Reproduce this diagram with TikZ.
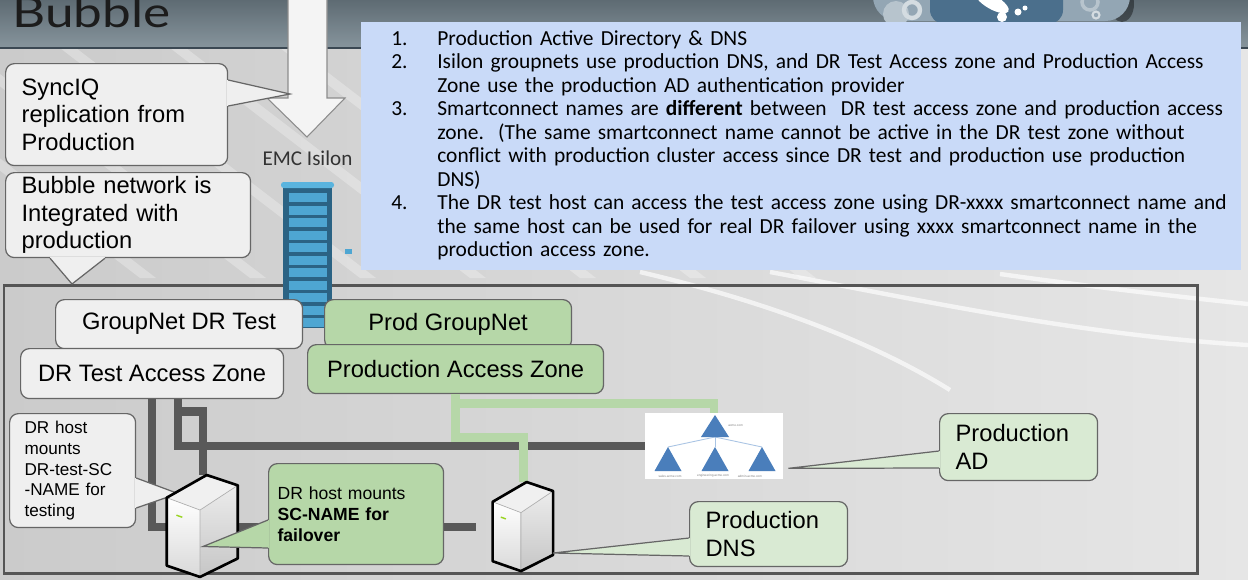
\documentclass[tikz,border=0pt]{standalone}
\usepackage{fontspec}
\usepackage{graphicx}
\setmainfont{Liberation Sans}
\newfontfamily\notesfont{Carlito}
\newfontfamily\titlefont{Lato}
\usetikzlibrary{calc}

\definecolor{headtop}{HTML}{5E6B73}
\definecolor{headbot}{HTML}{87959D}
\definecolor{headline}{HTML}{3B4853}
\definecolor{titleink}{HTML}{1C1C1C}
\definecolor{bgleft}{HTML}{CBCBCB}
\definecolor{bgright}{HTML}{E6E6E6}
\definecolor{boxgray}{HTML}{EFEFEF}
\definecolor{boxline}{HTML}{666666}
\definecolor{framegray}{HTML}{555555}
\definecolor{prodgreen}{HTML}{B6D7A8}
\definecolor{palegreen}{HTML}{D9EAD3}
\definecolor{notesblue}{HTML}{C9DAF8}
\definecolor{drline}{HTML}{595959}
\definecolor{rackdark}{HTML}{2B6384}
\definecolor{rackslot}{HTML}{4EA6D2}
\definecolor{rackcap}{HTML}{5AB4DE}
\definecolor{adblue}{HTML}{4A7EBB}
\definecolor{adlink}{HTML}{A9C4E4}
\definecolor{logodark}{HTML}{4B6F8C}
\definecolor{logolight}{HTML}{93A6B4}
\definecolor{logogear}{HTML}{B7C4CD}
\definecolor{arrowfill}{HTML}{F4F4F4}
\definecolor{arrowline}{HTML}{8C8C8C}

% little host cube, drawn inside the box of a named placeholder node
\newcommand{\serverbox}[1]{%
  \begin{scope}[shift={(#1.north west)},
      x={($(#1.north east)-(#1.north west)$)},
      y={($(#1.south west)-(#1.north west)$)}]
    \fill[top color=white, bottom color=gray!30] (0.01,0.22) -- (0.46,0.34) -- (0.46,0.99) -- (0.01,0.88) -- cycle;
    \fill[top color=gray!15, bottom color=gray!45] (0.46,0.34) -- (0.97,0.10) -- (0.97,0.81) -- (0.46,0.99) -- cycle;
    \fill[gray!12] (0.01,0.22) -- (0.55,0) -- (0.97,0.10) -- (0.46,0.34) -- cycle;
    \draw[gray!60, line width=0.4pt] (0.01,0.22) -- (0.46,0.34) -- (0.97,0.10) (0.46,0.34) -- (0.46,0.99);
    \draw[black, line width=1.5pt, line join=round] (0.01,0.22) -- (0.55,0) -- (0.97,0.10) -- (0.97,0.81) -- (0.46,0.99) -- (0.01,0.88) -- cycle;
    \draw[yellow!60!green, line width=0.8pt] (0.14,0.39) -- (0.22,0.41);
  \end{scope}}

% pointer of a speech box: fill colour, base start, tip, base end
\newcommand{\calltail}[4]{%
  \fill[#1] #2 -- #3 -- #4 -- cycle;
  \draw[#1, line width=1.3pt] #2 -- #4;
  \draw[tailline] #2 -- #3 -- #4;}

\begin{document}
\begin{tikzpicture}[x=0.02cm, y=-0.02cm,
    box/.style={anchor=north west, draw=boxline, line width=0.7pt, rounded corners=5pt, inner sep=0pt},
    gnet/.style={box, fill=boxgray, font=\fontsize{13.5}{15.6}\selectfont},
    gnetprod/.style={gnet, fill=prodgreen},
    note/.style={box, fill=boxgray, align=left, inner xsep=0.32cm, font=\fontsize{13.5}{15.6}\selectfont},
    smallnote/.style={note, inner xsep=0.3cm, font=\fontsize{9.75}{11.7}\selectfont},
    mountnote/.style={note, fill=prodgreen, inner xsep=0.18cm, font=\fontsize{10}{11.9}\selectfont},
    prodnote/.style={note, fill=palegreen, font=\fontsize{13.5}{15.9}\selectfont},
    tailline/.style={draw=boxline, line width=0.7pt},
    drnet/.style={draw=drline, line width=5pt},
    prodnet/.style={draw=prodgreen, line width=5pt},
    srvspot/.style={inner sep=0pt, outer sep=0pt},
    tinylabel/.style={inner sep=0pt, text=gray, font=\fontsize{1.8}{2}\selectfont},
    streak/.style={white, opacity=0.28},
    sweep/.style={draw=white, opacity=0.65, line width=2.5pt},
    frame/.style={draw=framegray, line width=1.7pt},
    syncarrow/.style={fill=arrowfill, draw=arrowline, line width=0.6pt}
]
\useasboundingbox (0,0) rectangle (1248,579);
\clip (0,0) rectangle (1248,579);

% backdrop
\fill[left color=bgleft, right color=bgright] (0,48) rectangle (1248,579);
\foreach \s in {-160,-50,60,170,280,390,500}
  \fill[streak] (\s,48) -- ++(16,0) -- ++(300,230) -- ++(-16,0) -- cycle;
\draw[sweep] (640,272) .. controls (760,300) and (870,340) .. (950,390);
\draw[sweep] (770,272) .. controls (920,300) and (1080,335) .. (1248,345);
\draw[sweep] (1000,274) .. controls (1100,288) and (1190,298) .. (1248,304);

% header band
\fill[top color=headtop, bottom color=headbot] (0,0) rectangle (1248,48);
\draw[headline, line width=1.2pt] (0,48) -- (1248,48);
\node[anchor=base west, inner sep=0pt, text=titleink] (title) at (12,27)
  {\resizebox{3.16cm}{0.62cm}{\titlefont Bubble}};

% logo
\fill[black, opacity=0.4] (1122,4) ellipse (12 and 18);
\fill[logolight, rounded corners=14pt] (873,-30) rectangle (1130,21);
\fill[logogear] (896,14) circle (13);
\draw[logogear!60!white, line width=2.5pt] (912,10) circle (8);
\draw[logogear, line width=2pt] (1090,2) circle (8);
\draw[logogear!60!white, line width=1.2pt] (1096,15) circle (3.5);
\fill[logodark, rounded corners=8pt] (930,-20) rectangle (1063,24);
\fill[white, rotate around={-30:(992,2)}] (992,2) ellipse (19 and 7);
\fill[white] (1002,17) circle (5);
\fill[white] (1018,12) circle (3.5);
\fill[white] (1025,8) circle (2.5);

% the bubble
\draw[frame] (4,285) rectangle (1197,573);
\coordinate (bubtip) at (72,284);

% replication arrow
\draw[syncarrow] (288,-2) -- (327,-2) -- (327,98) -- (345,98) -- (307,137) -- (267,98) -- (288,98) -- cycle;
\coordinate (synctip) at (290,94);

% isilon rack
\node[anchor=base, inner sep=0pt, text=black!80, font=\notesfont\fontsize{12}{14}\selectfont] (isilon) at (307.5,165) {EMC Isilon};
\fill[rackdark] (283,186) rectangle (332,328);
\foreach \y in {0,...,10}
  \fill[rackslot] (289,193+12.5*\y) rectangle (327,202+12.5*\y);
\fill[rackcap, rounded corners=1.5pt] (281,182) rectangle (334,188);
\fill[rackslot] (345,249) rectangle (352,254);

% groupnets and access zones
\node[gnet, minimum width=4.94cm, minimum height=0.98cm] (gndr) at (55,299) {GroupNet DR Test};
\node[gnet, minimum width=5.26cm, minimum height=1cm] (drzone) at (20,348) {DR Test Access Zone};
\node[gnetprod, minimum width=4.94cm, minimum height=0.98cm] (gnprod) at (324,299) {Prod GroupNet};
\node[gnetprod, minimum width=5.92cm, minimum height=0.98cm] (prodzone) at (307,344) {Production Access Zone};

% AD tree
\node[fill=white, inner sep=0pt, minimum width=2.76cm, minimum height=1.32cm] (ad) at (714,446) {};
\foreach \cx in {668,715,762} {
  \draw[adlink, line width=0.5pt] (715,437) -- (\cx,447);
  \fill[adblue] (\cx,447) -- ++(13.5,24) -- ++(-27,0) -- cycle;
}
\fill[adblue] (715,415) -- (729,437) -- (701,437) -- cycle;
\node[tinylabel, anchor=west] (adroot) at (728,426) {acme.com};
\node[tinylabel] (adsales) at (670,476) {sales.acme.com};
\node[tinylabel] (adeng) at (713,476) {engineering.acme.com};
\node[tinylabel] (adadmin) at (750,476) {admin.acme.com};

% hosts
\node[srvspot, minimum width=1.48cm, minimum height=2.06cm] (srvdr) at (203,526.5) {};
\node[srvspot, minimum width=1.26cm, minimum height=1.8cm] (srvprod) at (523.5,527) {};

% networks
\draw[drnet, shorten >=0.32cm] (drzone.south) |- (srvprod.west);
\draw[drnet] (drzone.south) ++(26,0) |- (ad.west);
\draw[drnet] (drzone.south) ++(26,0) -- ++(0,12) -| (srvdr.north);
\draw[prodnet] (prodzone.south) -- ++(0,9) -| (ad.north);
\draw[prodnet] (prodzone.south) -- ++(0,43) -| (srvprod.north);

% speech boxes
\node[note, minimum width=4.44cm, minimum height=2.04cm, text width=3.8cm] (sync) at (5,63)
  {SyncIQ\\replication from\\Production};
\calltail{boxgray}{($(sync.north east)+(0,17)$)}{(synctip)}{($(sync.north east)+(0,43)$)}

\node[note, minimum width=4.9cm, minimum height=1.7cm, text width=4.26cm] (bubnet) at (5,172)
  {Bubble network is\\Integrated with\\production};
\calltail{boxgray}{($(bubnet.south west)+(45,0)$)}{(bubtip)}{($(bubnet.south west)+(100,0)$)}

\node[smallnote, minimum width=2.52cm, minimum height=2.28cm, text width=1.92cm] (drhost) at (9,413)
  {DR host\\mounts\\DR-test-SC\\-NAME for\\testing};
\calltail{boxgray}{($(drhost.north east)+(0,65)$)}{($(srvdr.west)+(12,-33)$)}{($(drhost.north east)+(0,95)$)}

\serverbox{srvdr}
\serverbox{srvprod}

\node[mountnote, minimum width=3.5cm, minimum height=2.02cm, text width=3.14cm] (scname) at (268,463)
  {DR host mounts\\\textbf{SC-NAME for}\\\textbf{failover}};
\calltail{prodgreen}{($(scname.north west)+(0,57)$)}{($(srvdr.center)+(0,20)$)}{($(scname.north west)+(0,85)$)}

\node[prodnote, minimum width=3.16cm, minimum height=1.34cm, text width=2.52cm] (adnote) at (939,413)
  {Production\\AD};
\calltail{palegreen}{($(adnote.north west)+(0,38)$)}{($(ad.south east)+(5,-11)$)}{($(adnote.north west)+(0,55)$)}

\node[prodnote, minimum width=3.16cm, minimum height=1.3cm, text width=2.52cm] (dnsnote) at (689,501)
  {Production\\DNS};
\calltail{palegreen}{($(dnsnote.north west)+(0,37)$)}{($(srvprod.east)+(-2,26)$)}{($(dnsnote.north west)+(0,55)$)}

% notes panel
\node[anchor=north west, fill=notesblue, inner sep=0pt, inner xsep=0.6cm, minimum width=17.6cm,
      minimum height=4.96cm, text width=16.4cm, align=left,
      font=\notesfont\fontsize{12.2}{13.35}\selectfont] (notes) at (361,22) {%
  \begin{tabular}{@{}p{0.92cm}@{}l@{}}
  1. & Production Active Directory \& DNS\\
  2. & Isilon groupnets use production DNS, and DR Test Access zone and Production Access\\
     & Zone use the production AD authentication provider\\
  3. & Smartconnect names are \textbf{different} between\ \ DR test access zone and production access\\
     & zone.\ \ (The same smartconnect name cannot be active in the DR test zone without\\
     & conflict with production cluster access since DR test and production use production\\
     & DNS)\\
  4. & The DR test host can access the test access zone using DR-xxxx smartconnect name and\\
     & the same host can be used for real DR failover using xxxx smartconnect name in the\\
     & production access zone.
  \end{tabular}};
\end{tikzpicture}
\end{document}
